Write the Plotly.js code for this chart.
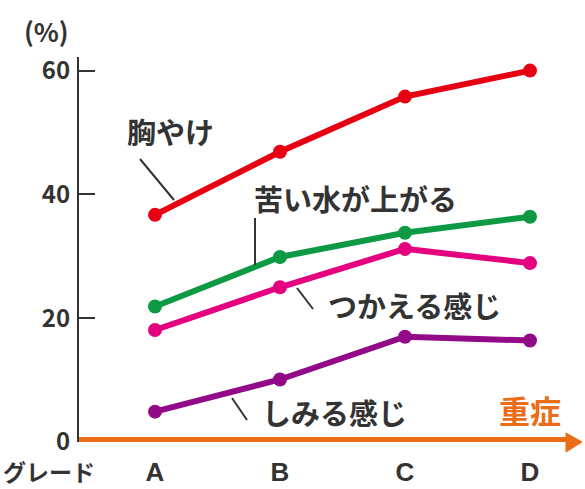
<!DOCTYPE html>
<html>
<head>
<meta charset="utf-8">
<script src="https://cdn.plot.ly/plotly-3.0.1.min.js"></script>
<style>html,body{margin:0;padding:0;background:#fff;}#chart{width:585px;height:489px;}</style>
</head>
<body>
<div id="chart"></div>
<script>
// ---- data ----
const grades = ["A", "B", "C", "D"];
const gradeIdx = [0, 1, 2, 3];
const seriesNames = ["胸やけ", "苦い水が上がる", "つかえる感じ", "しみる感じ"];
const heartburn = [36.7, 46.9, 55.8, 60.0];
const bitterWater = [21.9, 29.9, 33.8, 36.4];
const obstruction = [18.1, 25.0, 31.2, 28.9];
const stinging = [4.9, 10.1, 17.0, 16.4];
const yTicks = [0, 20, 40, 60];

const colors = ["#e60012", "#0e9a45", "#e4007f", "#920a87"];
const allSeries = [heartburn, bitterWater, obstruction, stinging];
const orange = "#ec6d18";
const ink = "#333333";

// layout geometry helpers (pixel -> paper) for label placement only
const W = 585, H = 489;
const mL = 79, mR = 5, mT = 57, mB = 47;
const xr = [-0.608, 3.4];
const yr = [0, 62.2];
const pw = W - mL - mR, ph = H - mT - mB;
const px = p => (p - mL) / pw;
const py = p => (H - mB - p) / ph;

const traces = allSeries.map((vals, i) => ({
  type: "scatter", mode: "lines+markers",
  x: gradeIdx, y: vals, name: seriesNames[i],
  line: {color: colors[i], width: 6},
  marker: {color: colors[i], size: 14},
  cliponaxis: false, hoverinfo: "skip"
}));

const labelFont = {family: "Noto Sans CJK JP", size: 29, color: ink, weight: 700};
const labels = [
  {text: seriesNames[0], x: 170, y: 131},
  {text: seriesNames[1], x: 355, y: 198},
  {text: seriesNames[2], x: 414, y: 305},
  {text: seriesNames[3], x: 334, y: 412}
];
const leaders = [
  [140, 159, 174, 200],
  [255, 218, 255, 265],
  [297, 288, 313, 309],
  [232, 398, 247, 420]
];

const annotations = labels.map(l => ({
  text: l.text, x: px(l.x), y: py(l.y), xref: "paper", yref: "paper",
  showarrow: false, font: labelFont, xanchor: "center", yanchor: "middle"
}));
annotations.push(
  {text: "(%)", x: px(46), y: py(31), xref: "paper", yref: "paper",
   showarrow: false, font: {family: "Noto Sans CJK JP", size: 26, color: ink, weight: 700}, xanchor: "center", yanchor: "middle"},
  {text: "重症", x: px(530), y: py(409), xref: "paper", yref: "paper",
   showarrow: false, font: {family: "Noto Sans CJK JP", size: 31, color: orange, weight: 700}, xanchor: "center", yanchor: "middle"},
  {text: "グレード", x: px(2), y: py(471), xref: "paper", yref: "paper",
   showarrow: false, font: {family: "Noto Sans CJK JP", size: 23, color: ink, weight: 700}, xanchor: "left", yanchor: "middle",
   borderpad: 0}
);

const shapes = leaders.map(s => ({
  type: "line", xref: "paper", yref: "paper",
  x0: px(s[0]), y0: py(s[1]), x1: px(s[2]), y1: py(s[3]),
  line: {color: ink, width: 2}
}));
// orange baseline arrow
shapes.push({
  type: "line", xref: "paper", yref: "y", x0: 0, x1: px(569), y0: 0, y1: 0,
  line: {color: orange, width: 10}, layer: "above"
});
shapes.push({
  type: "path", xref: "paper", yref: "paper",
  path: `M ${px(566)} ${py(433)} L ${px(582)} ${py(442)} L ${px(566)} ${py(452)} Z`,
  fillcolor: orange, line: {color: orange, width: 1}, layer: "above"
});

const layout = {
  width: W, height: H,
  margin: {l: mL, r: mR, t: mT, b: mB},
  paper_bgcolor: "#fff", plot_bgcolor: "#fff",
  showlegend: false,
  xaxis: {
    range: xr, tickvals: gradeIdx, ticktext: grades, ticks: "",
    showgrid: false, zeroline: false, showline: false,
    tickfont: {family: "Liberation Sans", size: 26, color: ink, weight: 700},
    ticklabelstandoff: 12
  },
  yaxis: {
    range: yr, tickvals: yTicks, ticks: "inside", ticklen: 16, tickwidth: 2, tickcolor: ink,
    showgrid: false, zeroline: false, showline: true, linecolor: ink, linewidth: 2,
    tickfont: {family: "Noto Sans CJK JP", size: 24, color: ink, weight: 700},
    ticklabelstandoff: 2
  },
  annotations: annotations,
  shapes: shapes
};

Plotly.newPlot("chart", traces, layout, {staticPlot: true, displayModeBar: false});
</script>
</body>
</html>
